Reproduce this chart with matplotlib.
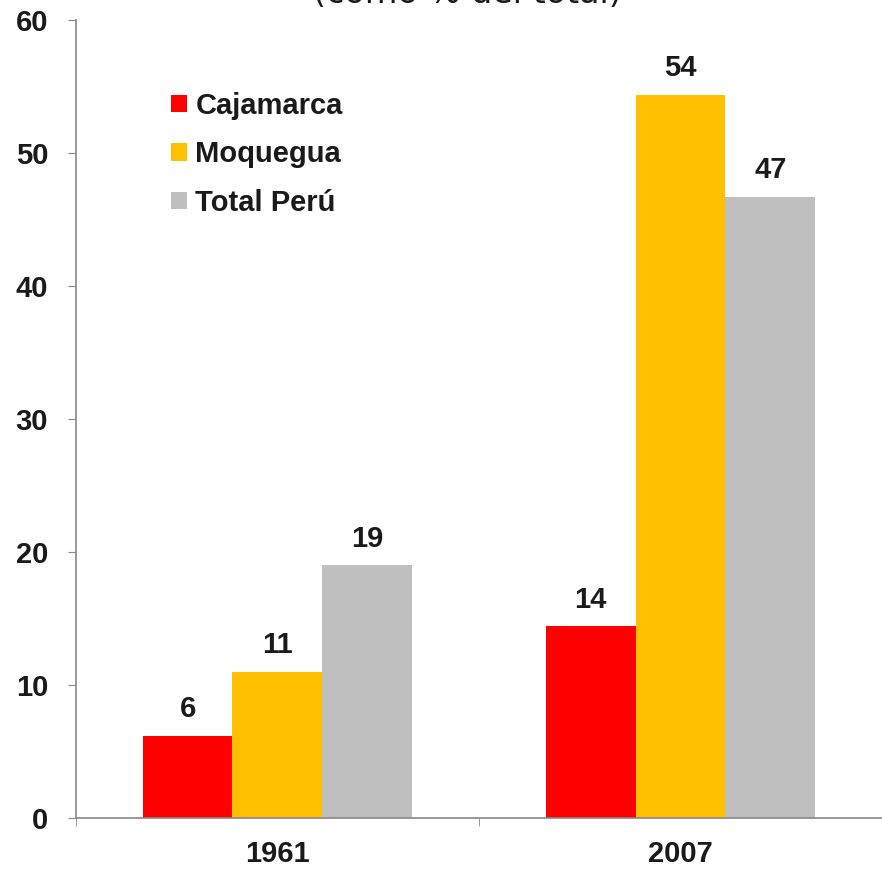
import numpy as np
import matplotlib
matplotlib.use("Agg")
import matplotlib.pyplot as plt

years = ["1961", "2007"]
series = ["Cajamarca", "Moquegua", "Total Perú"]
cajamarca = [6.2, 14.4]
moquegua = [11.0, 54.4]
total_peru = [19.0, 46.7]
colors = ["#ff0000", "#ffc000", "#bfbfbf"]

plt.rcParams["font.family"] = ["Liberation Sans", "DejaVu Sans"]

fig = plt.figure(figsize=(8.82, 8.73), dpi=100)
ax = fig.add_axes([0.086, 0.063, 0.914, 0.914])

x = np.arange(len(years))
width = 0.223
for i, (vals, name, col) in enumerate(zip([cajamarca, moquegua, total_peru], series, colors)):
    bars = ax.bar(x + (i - 1) * width, vals, width, color=col, label=name, linewidth=0)
    for b, v in zip(bars, vals):
        ax.annotate(f"{v:.0f}", (b.get_x() + b.get_width() / 2, v),
                    xytext=(0, 9), textcoords="offset points",
                    ha="center", va="bottom", fontsize=21, fontweight="bold",
                    color="#1a1a1a")

ax.set_xlim(-0.5, 1.5)
ax.set_ylim(0, 60)
ax.set_yticks(range(0, 61, 10))
ax.set_xticks(x)
ax.set_xticklabels(years)
ax.set_xticks([-0.5, 0.5, 1.5], minor=True)
ax.tick_params(axis="x", which="major", length=0, pad=16, labelsize=21)
ax.tick_params(axis="x", which="minor", length=6, color="#888888")
ax.tick_params(axis="y", length=6, color="#888888", pad=14, labelsize=21)
for lab in ax.get_xticklabels() + ax.get_yticklabels():
    lab.set_fontweight("bold")
    lab.set_color("#1a1a1a")

for s in ["top", "right"]:
    ax.spines[s].set_visible(False)
for s in ["left", "bottom"]:
    ax.spines[s].set_color("#888888")
    ax.spines[s].set_linewidth(1.2)

leg = ax.legend(loc="upper left", bbox_to_anchor=(0.085, 0.943), frameon=False,
                prop={"weight": "bold", "size": 21}, handlelength=0.55,
                handleheight=0.55, handletextpad=0.3, labelspacing=0.7)
for t in leg.get_texts():
    t.set_color("#1a1a1a")

fig.text(0.53, 0.988, "(como % del total)", ha="center", va="bottom",
         fontsize=24, family="DejaVu Sans", color="#1a1a1a")

fig.savefig("out.png", dpi=100)
